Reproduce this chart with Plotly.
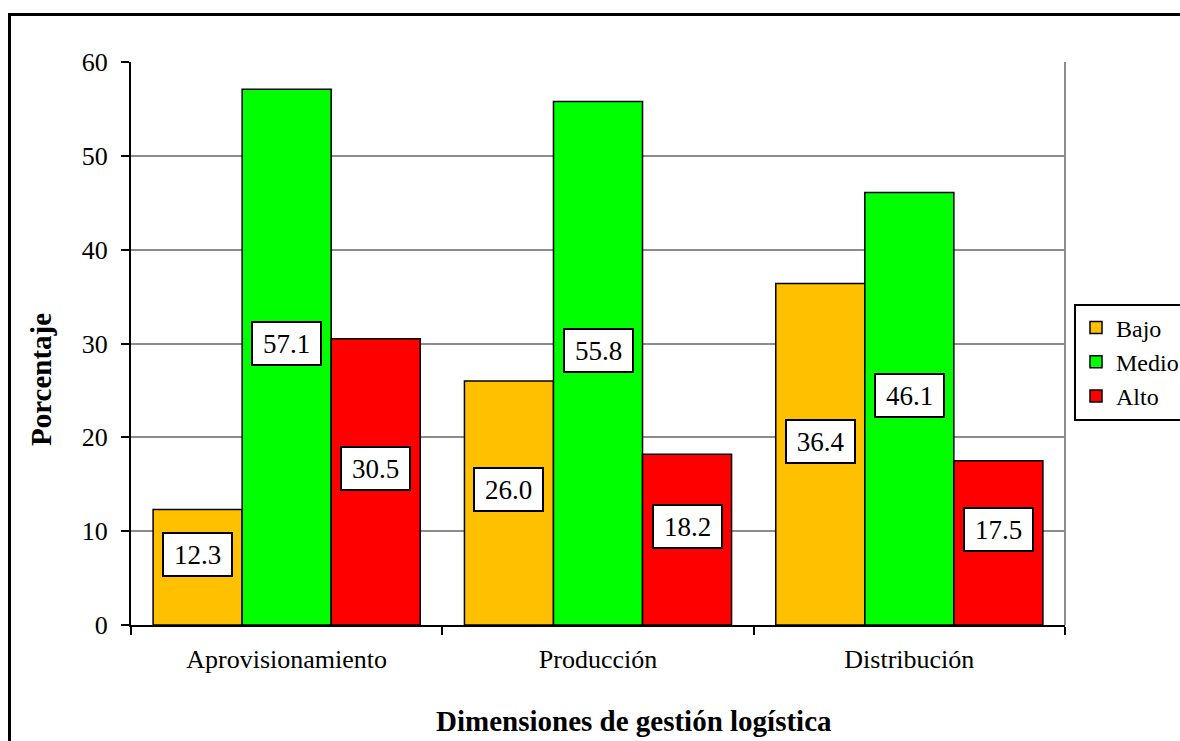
import plotly.graph_objects as go

# Dimensiones evaluadas y porcentaje por nivel
categorias = ["Aprovisionamiento", "Producción", "Distribución"]
niveles = ["Bajo", "Medio", "Alto"]
bajo = [12.3, 26.0, 36.4]
medio = [57.1, 55.8, 46.1]
alto = [30.5, 18.2, 17.5]
colores = ["#FFC000", "#00FF00", "#FF0000"]
y_ticks = [0, 10, 20, 30, 40, 50, 60]

FONT = "Liberation Serif"
W, H = 1180, 741
L, R, T, B = 131, 115, 62, 116
BARGAP = 0.142

series = [bajo, medio, alto]

fig = go.Figure()
for nombre, valores, color in zip(niveles, series, colores):
    fig.add_trace(go.Bar(
        name=nombre, x=categorias, y=valores,
        marker=dict(color=color, line=dict(color="black", width=1.5)),
    ))

# Etiquetas de valor en recuadro blanco sobre cada barra
ancho_barra = (1 - BARGAP) / len(series)
for k, valores in enumerate(series):
    desplazamiento = (k - (len(series) - 1) / 2) * ancho_barra
    for i, v in enumerate(valores):
        fig.add_annotation(
            x=i + desplazamiento, y=v / 2 + 1.4, xref="x", yref="y",
            text=f"{v:.1f}", showarrow=False,
            font=dict(family=FONT, size=27, color="black"),
            bgcolor="white", bordercolor="black", borderwidth=2,
            width=65, height=39, borderpad=1,
        )

pw = W - L - R
ph = H - T - B

def px(xp):
    return (xp - L) / pw

def py(yp):
    return (H - B - yp) / ph

# Títulos de ejes
fig.add_annotation(
    x=px(634), y=py(721), xref="paper", yref="paper",
    xanchor="center", yanchor="middle",
    text="<b>Dimensiones de gestión logística</b>", showarrow=False,
    font=dict(family=FONT, size=29, color="black"),
)
fig.add_annotation(
    x=px(41), y=py(380), xref="paper", yref="paper",
    xanchor="center", yanchor="middle",
    text="<b>Porcentaje</b>", showarrow=False, textangle=-90,
    font=dict(family=FONT, size=29, color="black"),
)

# Borde exterior del gráfico y borde derecho del área de trazado
fig.add_shape(type="rect", xref="paper", yref="paper",
              x0=px(9.5), x1=px(1190), y0=py(750), y1=py(14.5),
              line=dict(color="black", width=3), layer="above")
fig.add_shape(type="line", xref="paper", yref="paper",
              x0=1, x1=1, y0=0, y1=1,
              line=dict(color="#8c8c8c", width=2), layer="below")

fig.update_layout(
    width=W, height=H,
    margin=dict(l=L, r=R, t=T, b=B, autoexpand=False),
    paper_bgcolor="white", plot_bgcolor="white",
    barmode="group", bargap=BARGAP, bargroupgap=0,
    font=dict(family=FONT, size=26, color="black"),
    showlegend=True,
    legend=dict(
        x=px(1074), y=py(362), xanchor="left", yanchor="middle",
        bordercolor="black", borderwidth=2, bgcolor="white",
        font=dict(family=FONT, size=24, color="black"),
        itemwidth=30, tracegroupgap=0,
    ),
    xaxis=dict(
        showline=True, linecolor="black", linewidth=2,
        ticks="outside", tickson="boundaries", ticklen=8, tickwidth=2,
        tickcolor="black", showgrid=False,
        tickfont=dict(family=FONT, size=26, color="black"),
        ticklabelstandoff=10,
    ),
    yaxis=dict(
        range=[0, 60], tickvals=y_ticks,
        showline=True, linecolor="black", linewidth=2,
        ticks="outside", ticklen=8, tickwidth=2, tickcolor="black",
        showgrid=True, gridcolor="#8c8c8c", gridwidth=2, zeroline=False,
        tickfont=dict(family=FONT, size=26, color="black"),
        ticklabelstandoff=8,
    ),
)

fig.write_html("out.html")
